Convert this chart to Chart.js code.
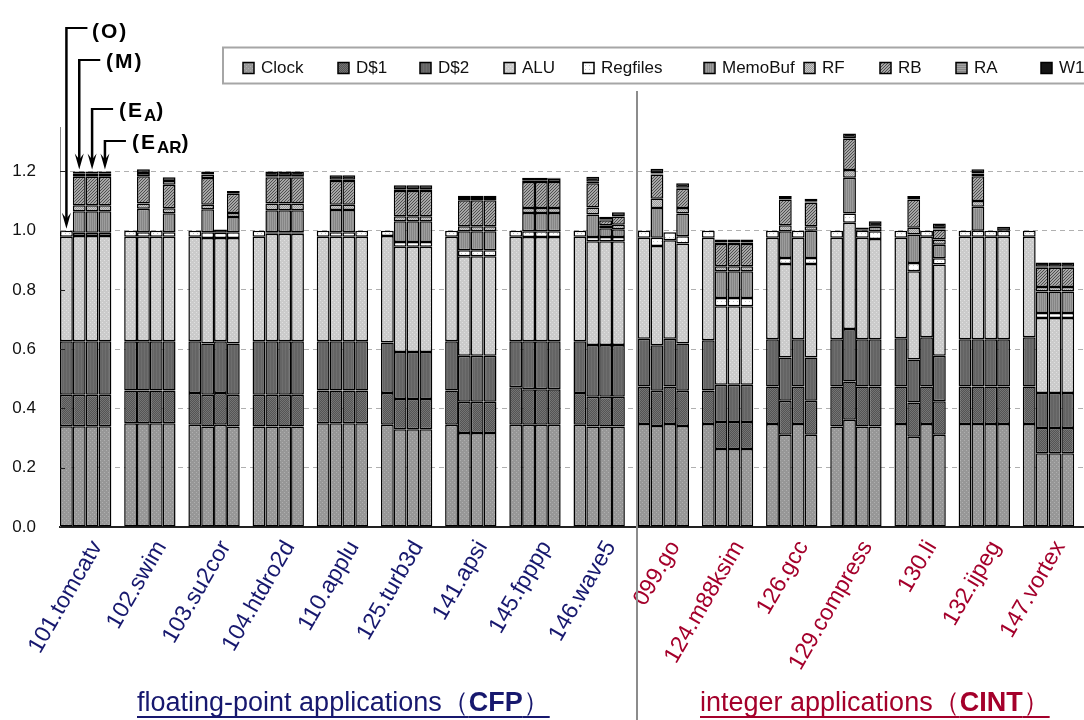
<!DOCTYPE html>
<html><head><meta charset="utf-8">
<script src="https://cdn.jsdelivr.net/npm/chart.js@4.4.1/dist/chart.umd.min.js"></script>
<style>
html,body{margin:0;padding:0;background:#fff;overflow:hidden;width:1084px;height:720px;}
#wrap{position:relative;width:1084px;height:720px;overflow:hidden;}
canvas{position:absolute;left:0;top:0;}
.ann{position:absolute;font:bold 21px "Liberation Sans",Arial,sans-serif;letter-spacing:2px;color:#000;line-height:21px;white-space:nowrap;}
.ann sub{font-size:17px;vertical-align:baseline;position:relative;top:4px;letter-spacing:0;}
.grp{position:absolute;font:27px "Liberation Sans",Arial,sans-serif;line-height:27px;white-space:nowrap;text-decoration:underline;text-decoration-thickness:2px;text-underline-offset:5px;text-decoration-skip-ink:none;}
</style></head>
<body><div id="wrap">
<canvas id="c" width="1100" height="720"></canvas>
<div class="ann" style="left:92px;top:20px">(O)</div>
<div class="ann" style="left:106px;top:50px">(M)</div>
<div class="ann" style="left:119px;top:99px">(E<sub>A</sub>)</div>
<div class="ann" style="left:132px;top:131px">(E<sub>AR</sub>)</div>
<div class="grp" style="left:137px;top:689px;color:#17186e;">floating-point applications（<b>CFP</b>）</div>
<div class="grp" style="left:700px;top:689px;color:#a4002b;">integer applications（<b>CINT</b>）</div>
</div>
<script>
const categories = ['101.tomcatv','102.swim','103.su2cor','104.htdro2d','110.applu','125.turb3d','141.apsi','145.fpppp','146.wave5','099.go','124.m88ksim','126.gcc','129.compress','130.li','132.ijpeg','147.vortex'];
const suite = ['CFP','CFP','CFP','CFP','CFP','CFP','CFP','CFP','CFP','CINT','CINT','CINT','CINT','CINT','CINT','CINT'];
const components = ['Clock','D$1','D$2','ALU','Regfiles','MemoBuf','RF','RB','RA','W1'];
const variants = ['O','M','EA','EAR'];
const yTickLabels = ['0.0','0.2','0.4','0.6','0.8','1.0','1.2'];

const clock_O   = [0.34,0.35,0.345,0.339,0.35,0.345,0.345,0.345,0.345,0.348,0.348,0.348,0.339,0.348,0.348,0.348];
const clock_M   = [0.34,0.35,0.339,0.339,0.35,0.33,0.317,0.345,0.339,0.341,0.263,0.311,0.362,0.305,0.348,0.249];
const clock_EA  = [0.34,0.35,0.345,0.339,0.35,0.33,0.317,0.345,0.339,0.348,0.263,0.348,0.339,0.348,0.348,0.249];
const clock_EAR = [0.34,0.35,0.339,0.339,0.35,0.33,0.317,0.345,0.339,0.341,0.263,0.311,0.339,0.311,0.348,0.249];

const dc1_O   = [0.106,0.111,0.107,0.107,0.111,0.107,0.116,0.127,0.107,0.126,0.113,0.126,0.135,0.126,0.126,0.126];
const dc1_M   = [0.106,0.111,0.107,0.107,0.111,0.102,0.106,0.12,0.101,0.119,0.091,0.115,0.129,0.115,0.126,0.085];
const dc1_EA  = [0.106,0.111,0.107,0.107,0.111,0.102,0.106,0.12,0.101,0.126,0.091,0.126,0.135,0.126,0.126,0.085];
const dc1_EAR = [0.106,0.111,0.107,0.107,0.111,0.102,0.106,0.12,0.101,0.119,0.091,0.115,0.135,0.113,0.126,0.085];

const dc2_O   = [0.181,0.166,0.175,0.181,0.166,0.171,0.166,0.155,0.175,0.161,0.169,0.16,0.16,0.163,0.16,0.166];
const dc2_M   = [0.181,0.166,0.173,0.181,0.166,0.159,0.155,0.162,0.174,0.153,0.126,0.146,0.177,0.145,0.16,0.118];
const dc2_EA  = [0.181,0.166,0.175,0.181,0.166,0.159,0.155,0.162,0.174,0.161,0.126,0.16,0.16,0.166,0.16,0.118];
const dc2_EAR = [0.181,0.166,0.173,0.181,0.166,0.159,0.155,0.162,0.174,0.159,0.126,0.146,0.16,0.154,0.16,0.118];

const alu_O   = [0.353,0.353,0.353,0.353,0.353,0.359,0.353,0.353,0.353,0.341,0.346,0.342,0.342,0.339,0.346,0.34];
const alu_M   = [0.355,0.353,0.356,0.363,0.353,0.355,0.336,0.352,0.35,0.335,0.265,0.316,0.359,0.298,0.346,0.253];
const alu_EA  = [0.355,0.353,0.348,0.363,0.353,0.355,0.336,0.352,0.35,0.333,0.265,0.342,0.342,0.34,0.346,0.253];
const alu_EAR = [0.355,0.353,0.356,0.363,0.353,0.355,0.336,0.352,0.35,0.338,0.265,0.316,0.338,0.308,0.346,0.253];

const reg_O   = [0.02,0.02,0.02,0.02,0.02,0.018,0.02,0.02,0.02,0.024,0.024,0.024,0.024,0.024,0.02,0.02];
const reg_M   = [0.011,0.015,0.02,0.005,0.015,0.016,0.02,0.019,0.015,0.028,0.028,0.02,0.031,0.028,0.02,0.017];
const reg_EA  = [0.011,0.02,0.018,0.005,0.015,0.016,0.02,0.019,0.015,0.027,0.028,0.024,0.024,0.02,0.02,0.017];
const reg_EAR = [0.011,0.015,0.02,0.005,0.02,0.016,0.02,0.019,0.015,0.024,0.028,0.02,0.026,0.021,0.02,0.017];

const memo_O   = [0,0,0,0,0,0,0,0,0,0,0,0,0,0,0,0];
const memo_M   = [0.073,0.079,0.077,0.074,0.075,0.07,0.064,0.062,0.076,0.101,0.09,0.09,0.121,0.096,0.081,0.073];
const memo_EA  = [0.073,0,0,0.074,0.075,0.07,0.064,0.062,0.029,0,0.09,0,0.005,0,0,0.073];
const memo_EAR = [0.073,0.064,0.051,0.074,0,0.07,0.064,0.062,0.026,0.077,0.09,0.092,0.015,0.046,0,0.073];

const rf_O   = [0,0,0,0,0,0,0,0,0,0,0,0,0,0,0,0];
const rf_M   = [0.02,0.018,0.016,0.023,0.018,0.017,0.017,0.017,0.023,0.031,0.017,0.02,0.026,0.023,0.019,0.015];
const rf_EA  = [0.02,0,0,0.023,0.018,0.017,0.017,0.017,0.01,0,0.017,0,0,0,0,0.015];
const rf_EAR = [0.02,0.017,0.014,0.023,0,0.017,0.017,0.017,0.015,0.019,0.017,0.015,0,0.017,0,0.015];

const rb_O   = [0,0,0,0,0,0,0,0,0,0,0,0,0,0,0,0];
const rb_M   = [0.096,0.092,0.09,0.088,0.08,0.085,0.088,0.087,0.082,0.082,0.075,0.087,0.106,0.095,0.084,0.065];
const rb_EA  = [0.096,0,0,0.088,0.08,0.085,0.088,0.087,0.017,0,0.075,0,0,0,0,0.065];
const rb_EAR = [0.096,0.079,0.065,0.088,0,0.085,0.088,0.087,0.028,0.065,0.075,0.08,0,0.034,0,0.065];

const ra_O   = [0,0,0,0,0,0,0,0,0,0,0,0,0,0,0,0];
const ra_M   = [0.01,0.011,0.012,0.004,0.004,0.006,0.007,0.006,0.005,0.003,0.005,0.002,0.002,0.002,0.009,0.003];
const ra_EA  = [0.01,0,0,0.004,0.004,0.006,0.007,0.006,0.002,0,0.005,0,0,0,0,0.003];
const ra_EAR = [0.01,0.013,0,0.004,0,0.006,0.007,0.011,0.002,0.003,0.005,0.003,0,0.004,0,0.003];

const w1_O   = [0,0,0,0,0,0,0,0,0,0,0,0,0,0,0,0];
const w1_M   = [0.008,0.012,0.01,0.016,0.015,0.013,0.008,0.009,0.017,0.016,0.01,0.01,0.015,0.01,0.014,0.015];
const w1_EA  = [0.008,0,0.011,0.016,0.015,0.013,0.008,0.009,0.01,0,0.01,0,0.006,0,0,0.015];
const w1_EAR = [0.008,0.012,0.009,0.016,0,0.013,0.008,0.004,0.012,0.015,0.01,0.01,0.019,0.016,0.013,0.015];

const spacer = [0,0,0,0,0,0,0,0,0,0,0,0,0,0,0,0];

const table = {
  'Clock':   {O:clock_O, M:clock_M, EA:clock_EA, EAR:clock_EAR},
  'D$1':     {O:dc1_O, M:dc1_M, EA:dc1_EA, EAR:dc1_EAR},
  'D$2':     {O:dc2_O, M:dc2_M, EA:dc2_EA, EAR:dc2_EAR},
  'ALU':     {O:alu_O, M:alu_M, EA:alu_EA, EAR:alu_EAR},
  'Regfiles':{O:reg_O, M:reg_M, EA:reg_EA, EAR:reg_EAR},
  'MemoBuf': {O:memo_O, M:memo_M, EA:memo_EA, EAR:memo_EAR},
  'RF':      {O:rf_O, M:rf_M, EA:rf_EA, EAR:rf_EAR},
  'RB':      {O:rb_O, M:rb_M, EA:rb_EA, EAR:rb_EAR},
  'RA':      {O:ra_O, M:ra_M, EA:ra_EA, EAR:ra_EAR},
  'W1':      {O:w1_O, M:w1_M, EA:w1_EA, EAR:w1_EAR}
};

const canvas = document.getElementById('c');
const mainCtx = canvas.getContext('2d');
function makePattern(w, h, base, marks){
  const t = document.createElement('canvas'); t.width = w; t.height = h;
  const g = t.getContext('2d');
  g.fillStyle = base; g.fillRect(0,0,w,h);
  marks.forEach(([col, pts]) => { g.fillStyle = col; pts.forEach(([x,y]) => g.fillRect(x,y,1,1)); });
  return mainCtx.createPattern(t, 'repeat');
}
const fills = {
  'Clock':    makePattern(4,4,'#979797',[['#afafaf',[[0,0],[2,2]]]]),
  'D$1':      makePattern(2,2,'#545454',[['#747474',[[0,0],[1,1]]]]),
  'D$2':      makePattern(3,1,'#646464',[['#6e6e6e',[[0,0]]]]),
  'ALU':      makePattern(4,4,'#cbcbcb',[['#e0e0e0',[[0,0],[2,2]]]]),
  'Regfiles': makePattern(4,4,'#ffffff',[['#c4c4c4',[[1,1]]]]),
  'MemoBuf':  makePattern(2,1,'#858585',[['#9d9d9d',[[0,0]]]]),
  'RF':       makePattern(2,2,'#999999',[['#c9c9c9',[[0,0],[1,1]]]]),
  'RB':       makePattern(3,3,'#a6a6a6',[['#4e4e4e',[[0,2],[1,1],[2,0]]]]),
  'RA':       makePattern(1,2,'#878787',[['#a4a4a4',[[0,0]]]]),
  'W1':       '#141414'
};

const datasets = [];
variants.forEach(v => {
  components.forEach(c => {
    datasets.push({label:c, stack:v, data:table[c][v], backgroundColor:fills[c],
      borderColor:'#000', borderWidth:1.5, borderSkipped:false, inflateAmount:0,
      categoryPercentage:1, barPercentage:1});
  });
});
datasets.push({label:'', stack:'gap', data:spacer, backgroundColor:'rgba(0,0,0,0)', borderWidth:0,
  categoryPercentage:1, barPercentage:1});

const legendX = [243, 338, 420, 504, 583, 704, 804, 880, 956, 1041];
const arrowLineY = [28, 60, 109, 141];

const deco = {
  id:'deco',
  afterDraw(chart){
    const {ctx, chartArea:a, scales:{x, y}} = chart;
    ctx.save();
    ctx.strokeStyle = '#222'; ctx.lineWidth = 1;
    y.ticks.forEach(t => { const py = Math.round(y.getPixelForValue(t.value)) + 0.5;
      ctx.beginPath(); ctx.moveTo(a.left, py); ctx.lineTo(a.left + 5, py); ctx.stroke(); });
    const cw = (a.right - a.left) / categories.length;
    const firstInt = suite.indexOf('CINT');
    const dx = Math.round(x.getPixelForValue(firstInt) - cw/2) - 1;
    ctx.strokeStyle = '#8c8c8c'; ctx.lineWidth = 2;
    ctx.beginPath(); ctx.moveTo(dx, 91); ctx.lineTo(dx, chart.height); ctx.stroke();
    ctx.strokeStyle = '#000'; ctx.fillStyle = '#000';
    variants.forEach((v, i) => {
      const topMeta = chart.getDatasetMeta(i*components.length + components.length - 1);
      const el = topMeta.data[0];
      const bx = el.x, tip = el.y - 2, hy = arrowLineY[i];
      ctx.lineWidth = 2;
      ctx.beginPath(); ctx.moveTo(bx, hy); ctx.lineTo(bx + 21, hy); ctx.stroke();
      ctx.lineWidth = 2.5;
      ctx.beginPath(); ctx.moveTo(bx, hy - 1); ctx.lineTo(bx, tip - 8); ctx.stroke();
      ctx.beginPath(); ctx.moveTo(bx - 4.5, tip - 16); ctx.lineTo(bx, tip - 10); ctx.lineTo(bx + 4.5, tip - 16);
      ctx.lineTo(bx, tip); ctx.closePath(); ctx.fill();
    });
    ctx.fillStyle = '#fff'; ctx.fillRect(223, 47, 900, 37);
    ctx.strokeStyle = '#a6a6a6'; ctx.lineWidth = 2; ctx.strokeRect(223, 47.5, 900, 36);
    ctx.font = '17px "Liberation Sans", Arial, sans-serif';
    ctx.textBaseline = 'middle'; ctx.textAlign = 'left';
    components.forEach((c, i) => {
      const sx = legendX[i];
      ctx.fillStyle = fills[c]; ctx.fillRect(sx, 62.5, 11, 11);
      ctx.strokeStyle = '#000'; ctx.lineWidth = 1.5; ctx.strokeRect(sx, 62.5, 11, 11);
      ctx.fillStyle = '#111'; ctx.fillText(c, sx + 18, 68.5);
    });
    ctx.restore();
  }
};

new Chart(mainCtx, {
  type:'bar',
  data:{labels:categories, datasets:datasets},
  plugins:[deco],
  options:{
    responsive:false, animation:false, events:[],
    layout:{padding:{top:127, right:13, left:0, bottom:0}},
    plugins:{legend:{display:false}, tooltip:{enabled:false}},
    scales:{
      x:{stacked:true,
        grid:{display:false, drawTicks:false},
        border:{display:true, color:'#222', width:2},
        ticks:{autoSkip:false, maxRotation:60, minRotation:60, padding:9, labelOffset:5,
          font:{family:'"Liberation Sans", Arial, sans-serif', size:23},
          color:(c) => suite[c.index] === 'CFP' ? '#17186e' : '#a4002b'},
        afterFit(s){ s.height = 193; s.paddingLeft = 0; s.paddingRight = 0; }
      },
      y:{stacked:true, min:0, max:1.35,
        afterBuildTicks(s){ s.ticks = s.ticks.filter(t => yTickLabels.includes(t.value.toFixed(1)) && t.value <= 1.2001); },
        ticks:{stepSize:0.2, padding:24, color:'#111',
          font:{family:'"Liberation Sans", Arial, sans-serif', size:17},
          callback:(v) => Number(v).toFixed(1)},
        grid:{color:'#b0b0b0', lineWidth:1, drawTicks:false},
        border:{display:true, color:'#888', width:1, dash:[5,4]},
        afterFit(s){ s.width = 60; s.paddingTop = 0; s.paddingBottom = 0; }
      }
    }
  }
});
</script>
</body></html>
